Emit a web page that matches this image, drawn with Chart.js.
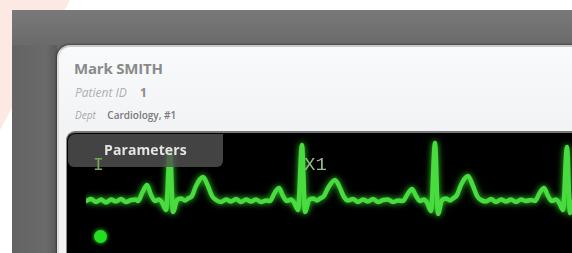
<!DOCTYPE html>
<html>
<head>
<meta charset="utf-8">
<script src="https://cdn.jsdelivr.net/npm/chart.js@4/dist/chart.umd.min.js"></script>
<style>
  html, body { margin: 0; padding: 0; }
  body { width: 572px; height: 253px; overflow: hidden; position: relative; background: #fff; font-family: "Open Sans", sans-serif; }
  .tint { position: absolute; left: 0; top: 0; width: 70px; height: 130px; background: #fde9e3; clip-path: polygon(0 0, 100% 0, 0 100%); }
  .frame { position: absolute; left: 12px; top: 10px; width: 600px; height: 260px; background: linear-gradient(#797979, #6c6c6c 30px, #666 60px, #646464); }
  .frameShade { position: absolute; left: 12px; top: 45px; width: 45px; height: 220px; background: linear-gradient(90deg, #636363, #6a6a6a 75%, #5a5a5a); }
  .card { position: absolute; left: 57px; top: 45px; width: 560px; height: 240px; border-top-left-radius: 13px; background: linear-gradient(#f9fafb, #f2f3f5 80px); border-top: 2px solid #c9cacc; border-left: 2px solid #dcdcde; box-shadow: -1px -1px 2px rgba(0,0,0,0.35); }
  .name { position: absolute; left: 74px; top: 58px; font-size: 15px; font-weight: 700; color: #8a8a8a; letter-spacing: -0.2px; }
  .pid { position: absolute; left: 75px; top: 84px; font-size: 12px; font-style: italic; color: #b0b0b0; }
  .pid b { font-style: normal; color: #8a8a8a; margin-left: 10px; }
  .dept { position: absolute; left: 75px; top: 108px; font-size: 10px; font-style: italic; color: #a8a8a8; }
  .dept span { font-style: normal; font-weight: 600; color: #7a7a7a; margin-left: 9px; }
  .panel { position: absolute; left: 66px; top: 131px; width: 540px; height: 140px; background: #000; border-top-left-radius: 9px; border-top: 2px solid #777; border-left: 1px solid #888; }
  #ecg { position: absolute; left: 86px; top: 135px; }
  .tab { position: absolute; left: 68px; top: 134px; width: 155px; height: 33px; border-radius: 7px 0 6px 6px; background: rgba(82,82,82,0.82); }
  .tab span { position: absolute; left: 36px; top: 6px; font-size: 14px; font-weight: 700; color: #e4e4e4; letter-spacing: 0.1px; }
  .lead { position: absolute; left: 93px; top: 155px; font-family: "Liberation Mono", monospace; font-size: 18px; color: #7aa552; }
  .marker { position: absolute; left: 304px; top: 154px; font-family: "Liberation Mono", monospace; font-size: 19px; color: #98bb8c; }
  .dot { position: absolute; left: 94px; top: 230px; width: 13px; height: 13px; border-radius: 50%; background: #22e01e; box-shadow: 0 0 4px #2be82a; }
</style>
</head>
<body>
<div class="tint"></div>
<div class="frame"></div>
<div class="frameShade"></div>
<div class="card"></div>
<div class="name">Mark SMITH</div>
<div class="pid">Patient ID <b>1</b></div>
<div class="dept">Dept <span>Cardiology, #1</span></div>
<div class="panel"></div>
<canvas id="ecg" width="490" height="100"></canvas>
<div class="tab"><span>Parameters</span></div>
<div class="lead">I</div>
<div class="marker">X1</div>
<div class="dot"></div>
<script>
// ECG trace, lead I: time in ms, voltage in mV
var times = [0, 25, 50, 75, 100, 125, 150, 175, 200, 225, 250,
  260, 283, 305, 325, 345, 365, 380, 400, 420, 435, 455, 475, 495, 510,
  530, 550, 585, 610, 630, 650, 675, 700, 725, 750, 775, 800, 825, 850, 875, 900,
  920, 943, 965, 985, 1005, 1025, 1040, 1060, 1080, 1095, 1115, 1135, 1155, 1170,
  1190, 1210, 1245, 1270, 1290, 1310, 1335, 1360, 1385, 1410, 1435, 1460, 1485, 1510, 1535, 1560,
  1585, 1608, 1630, 1650, 1670, 1690, 1705, 1725, 1745, 1760, 1780, 1800, 1820, 1835,
  1855, 1875, 1910, 1935, 1955, 1975, 2000, 2025, 2050, 2075, 2100, 2125, 2150, 2175, 2200, 2225,
  2245, 2268, 2290, 2310, 2330, 2350, 2365, 2385, 2405, 2420, 2440, 2460];
var mv = [0.00, 0.04, -0.02, 0.03, -0.03, 0.03, -0.01, 0.04, -0.02, 0.02, 0.03,
  0.00, 0.18, 0.32, 0.12, 0.00, 0.03, -0.03, -0.18, 1.02, -0.22, 0.02, 0.05, 0.01, 0.05,
  0.10, 0.30, 0.48, 0.30, 0.10, 0.02, -0.02, 0.03, -0.01, 0.04, -0.02, 0.03, -0.01, 0.03, -0.02, 0.01,
  0.00, 0.16, 0.26, 0.10, 0.00, 0.03, -0.03, -0.18, 1.12, -0.22, 0.02, 0.05, 0.01, 0.05,
  0.10, 0.26, 0.42, 0.26, 0.08, 0.01, 0.04, -0.02, 0.03, -0.01, 0.04, -0.02, 0.02, 0.03, -0.02, 0.01,
  0.00, 0.14, 0.24, 0.10, 0.00, 0.03, -0.03, -0.20, 1.16, -0.26, 0.02, 0.05, 0.01, 0.05,
  0.12, 0.32, 0.50, 0.30, 0.10, 0.02, -0.01, 0.04, -0.02, 0.03, -0.01, 0.03, -0.02, 0.03, 0.00, 0.02,
  0.00, 0.16, 0.26, 0.10, 0.00, 0.03, -0.03, -0.18, 1.08, -0.24, 0.02, 0.05];

var timeMin = 0;
var timeMax = 2450;
var mvMin = -0.68;
var mvMax = 1.32;

var points = times.map(function (t, i) { return { x: t, y: mv[i] }; });

// soft phosphor glow under the trace
var glow = {
  id: 'glow',
  beforeDatasetDraw: function (chart) {
    chart.ctx.save();
    chart.ctx.shadowColor = 'rgba(70, 255, 60, 0.8)';
    chart.ctx.shadowBlur = 6;
  },
  afterDatasetDraw: function (chart) {
    chart.ctx.restore();
  }
};

new Chart(document.getElementById('ecg'), {
  type: 'line',
  data: {
    datasets: [{
      data: points,
      borderColor: '#48dc3e',
      borderWidth: 4.5,
      pointRadius: 0,
      tension: 0,
      cubicInterpolationMode: 'monotone',
      borderJoinStyle: 'round',
      borderCapStyle: 'round',
      fill: false
    }]
  },
  options: {
    responsive: false,
    animation: false,
    layout: { padding: 0 },
    plugins: { legend: { display: false }, tooltip: { enabled: false } },
    scales: {
      x: { type: 'linear', min: timeMin, max: timeMax, display: false },
      y: { min: mvMin, max: mvMax, display: false }
    }
  },
  plugins: [glow]
});
</script>
</body>
</html>
